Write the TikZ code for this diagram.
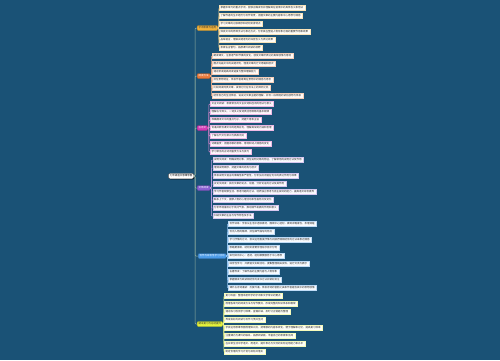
\documentclass[tikz,border=0pt]{standalone}
\usepackage{fontspec}
\newfontfamily\cjk{Noto Sans CJK SC}
\usepackage{xcolor}
\usetikzlibrary{shadows}

\definecolor{bgblue}{RGB}{26,82,118}
\definecolor{trunkline}{RGB}{150,178,160}
\definecolor{c1}{RGB}{242,178,58}
\definecolor{c2}{RGB}{232,121,58}
\definecolor{c3}{RGB}{210,58,180}
\definecolor{c4}{RGB}{138,95,208}
\definecolor{c5}{RGB}{74,155,232}
\definecolor{c6}{RGB}{228,242,60}

\begin{document}
\begin{tikzpicture}[x=1pt, y=-1pt,
  leaf/.style={rectangle, draw=#1!35!white, fill=#1!4!white, line width=0.3pt,
               inner xsep=1.5pt, inner ysep=0pt, minimum height=5pt, anchor=west,
               text=black!85, text height=2pt, text depth=0.5pt,
               font=\cjk\fontsize{2.5}{3}\selectfont,
               drop shadow={shadow xshift=0.7pt, shadow yshift=-0.7pt, fill=black, opacity=0.8}},
  branch/.style={rectangle, rounded corners=1pt, draw=#1!70!black, fill=#1, line width=0.3pt,
                 inner xsep=1.5pt, inner ysep=0pt, minimum height=5pt, anchor=west,
                 text=white, text height=2pt, text depth=0.5pt,
                 font=\cjk\fontsize{2.5}{3}\selectfont},
  root/.style={rectangle, rounded corners=1.5pt, draw=black!70, fill=white, line width=0.4pt,
               inner xsep=1.5pt, inner ysep=0pt, minimum height=5.5pt, anchor=east,
               text=black, text height=2pt, text depth=0.5pt,
               font=\cjk\fontsize{2.5}{3}\selectfont,
               drop shadow={shadow xshift=0.7pt, shadow yshift=-0.7pt, fill=black, opacity=0.8}},
  link/.style={line width=0.5pt, rounded corners=1pt}
]
  \fill[bgblue] (0,0) rectangle (500,360);
  \useasboundingbox (0,0) rectangle (500,360);

  \node[root] (root) at (194,176) {七年级语文思维导图};

  % main branches
  \node[branch=c1, text=black!80] (b1) at (197,28) {字词积累与运用};
  \node[branch=c2] (b2) at (197,76) {阅读方法};
  \node[branch=c3] (b3) at (197,128) {古诗文};
  \node[branch=c4] (b4) at (197,188) {文体阅读};
  \node[branch=c5] (b5) at (198,256) {写作与综合性学习活动};
  \node[branch=c6, text=black!80] (b6) at (197,324) {期末复习与总结提升};

  \foreach \b in {b1,b2,b3,b4,b5,b6}
    \draw[link, trunkline] (root.east) -- ++(1pt,0) |- (\b.west);

  % leaves
  \foreach \y/\t [count=\i] in {
      8/掌握本单元的重点字词，能够正确读写并理解其在语境中的具体含义和用法,
      16/了解作者的生平经历与写作背景，把握文章的主要内容和中心思想与情感,
      24/学习文章的记叙顺序和结构安排特点,
      32/体会文中的修辞手法与表达方式，分析其在塑造人物形象方面的重要作用和效果,
      40/品味语言，理解关键语句的深层含义与表达效果,
      48/积累名言警句，拓展课外阅读的视野}{
    \node[leaf=c1] (b1-\i) at (219,\y) {\t};
    \draw[link, c1!60!white] (b1.east) -- ++(1pt,0) |- (b1-\i.west);
  }

  \foreach \y/\t [count=\i] in {
      56/朗读课文，注意语气和节奏的变化，感受文章所表达的真挚感情与意境,
      64/圈点勾画文中的关键词句，理清文章的行文思路和层次,
      72/通过默读提高阅读速度与整体理解能力,
      80/抓住景物特征，体会作者寄寓在景物中的情感与思考,
      88/比较阅读同类文章，发现它们在写法上的异同之处,
      96/结合自己的生活体验，说说对文章主题的理解，并写一段简短的读后感想与体会}{
    \node[leaf=c2] (b2-\i) at (212,\y) {\t};
    \draw[link, c2!60!white] (b2.east) -- ++(1pt,0) |- (b2-\i.west);
  }

  \foreach \y/\t [count=\i] in {
      104/文言文阅读：积累常见的文言实词和虚词的用法与意义,
      112/理解古今异义、一词多义及词类活用现象的基本规律,
      120/准确翻译文中的重点句子，把握大意和主旨,
      128/背诵并默写课文中的经典名句，理解其深刻内涵和哲理,
      136/了解古代文化常识与典故出处,
      144/诗歌鉴赏：把握诗歌的意象、意境和诗人情感的变化,
      152/学习常见的古诗词鉴赏方法与技巧}{
    \node[leaf=c3] (b3-\i) at (210,\y) {\t};
    \draw[link, c3!60!white] (b3.east) -- ++(1pt,0) |- (b3-\i.west);
  }

  \foreach \y/\t [count=\i] in {
      160/说明文阅读：明确说明对象，抓住说明对象的特征，了解常用的说明方法及作用,
      168/理清说明顺序，把握文章的结构与层次,
      176/体会说明文语言的准确性和严密性，分析加点词语在句中的表达作用与效果,
      184/议论文阅读：找出文章的论点、论据，分析论证的方法及其作用,
      192/学习作者观察生活、思考问题的方法，培养独立思考与自主探究的能力，提高语文综合素养,
      200/联系上下文，揣摩人物的心理活动和性格特点及变化,
      208/分析环境描写对于烘托气氛、推动情节发展的作用和意义,
      216/归纳文章的主旨与写作特色及手法}{
    \node[leaf=c4] (b4-\i) at (212.5,\y) {\t};
    \draw[link, c4!60!white] (b4.east) -- ++(1pt,0) |- (b4-\i.west);
  }

  \foreach \y/\t [count=\i] in {
      224/写作训练：学会从生活中选取素材，围绕中心选材，做到详略得当，条理清楚,
      232/写出人物的精神，抓住细节描写的特点,
      240/学习抒情的方式，尝试运用直接抒情与间接抒情相结合的方法来表达情感,
      248/思路要清晰，结构安排要合理有序层次分明,
      256/如何突出中心：选材、组材都要服务于中心思想,
      264/综合性学习：开展语文实践活动，搜集整理相关资料，进行交流与展示,
      272/名著导读：了解作品的主要内容与人物形象,
      280/掌握精读与跳读相结合的读书方法并做好批注,
      288/课外古诗词诵读：反复吟诵，体会诗词的音韵之美和作者蕴含其中的思想感情}{
    \node[leaf=c5] (b5-\i) at (228,\y) {\t};
    \draw[link, c5!60!white] (b5.east) -- ++(1pt,0) |- (b5-\i.west);
  }

  \foreach \y/\t [count=\i] in {
      296/复习巩固：整理本册所学的字词和文学常识的要点,
      304/梳理各单元的阅读方法与写作要点，形成完整的知识体系和框架,
      312/通过练习检测学习效果，查漏补缺，及时订正错题与整理,
      320/养成良好的阅读与写作习惯并坚持,
      328/学会运用思维导图梳理知识点，把零散的内容系统化，便于理解和记忆，提高复习效率,
      336/注重课内与课外的联系，拓展阅读面，丰富自己的积累和见闻,
      344/在日常生活中学语文、用语文，提升表达与交流的实际运用能力和水平,
      352/制定合理的学习计划与目标并落实}{
    \node[leaf=c6] (b6-\i) at (224,\y) {\t};
    \draw[link, c6!60!white] (b6.east) -- ++(1pt,0) |- (b6-\i.west);
  }
\end{tikzpicture}
\end{document}
